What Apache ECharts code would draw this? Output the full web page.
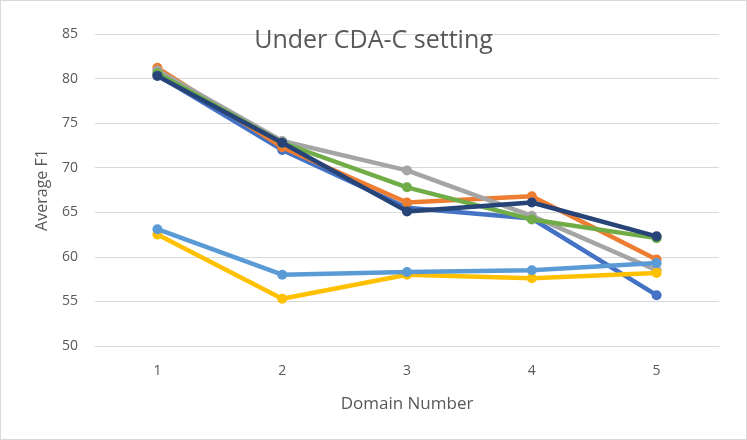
<!DOCTYPE html>
<html><head><meta charset="utf-8">
<script src="https://cdn.jsdelivr.net/npm/echarts@6/dist/echarts.min.js"></script>
<style>html,body{margin:0;padding:0;background:#fff}#c{width:747px;height:440px;box-sizing:border-box;border:1px solid #d9d9d9}</style>
</head><body><div id="c"></div>
<script>
const categories = ['1','2','3','4','5'];
const seriesNames = ['S1','S2','S3','S4','S5','S6','S7'];
const s1 = [80.4, 72.0, 65.5, 64.3, 55.7];
const s2 = [81.2, 72.3, 66.1, 66.8, 59.7];
const s3 = [80.9, 73.0, 69.7, 64.6, 58.5];
const s4 = [62.5, 55.3, 58.0, 57.6, 58.2];
const s5 = [63.1, 58.0, 58.3, 58.5, 59.3];
const s6 = [80.6, 72.8, 67.8, 64.2, 62.1];
const s7 = [80.3, 72.8, 65.1, 66.1, 62.3];
const colors = ['#4472C4','#ED7D31','#A5A5A5','#FFC000','#5B9BD5','#70AD47','#264478'];
const data = [s1,s2,s3,s4,s5,s6,s7];
const font = 'Open Sans, Noto Sans, sans-serif';
const chart = echarts.init(document.getElementById('c'), null, {renderer:'canvas'});
chart.setOption({
  animation:false,
  title:{text:'Under CDA-C setting', left:'center', top:22,
    textStyle:{color:'#595959', fontSize:25, fontWeight:'normal', fontFamily:font}},
  grid:{left:94, right:27, top:33, bottom:93},
  xAxis:{type:'category', data:categories, boundaryGap:true,
    name:'Domain Number', nameLocation:'middle', nameGap:50,
    nameTextStyle:{color:'#595959', fontSize:17, fontFamily:font},
    axisLine:{show:true, lineStyle:{color:'#d9d9d9', width:1}},
    axisTick:{show:false},
    axisLabel:{color:'#595959', fontSize:14, margin:18, fontFamily:font}},
  yAxis:{type:'value', min:50, max:85, interval:5,
    name:'Average F1', nameLocation:'middle', nameGap:45,
    nameTextStyle:{color:'#595959', fontSize:16, fontFamily:font},
    axisLine:{show:false}, axisTick:{show:false},
    axisLabel:{color:'#595959', fontSize:14, margin:17, fontFamily:font},
    splitLine:{lineStyle:{color:'#d9d9d9', width:1}}},
  series:data.map((d,i)=>({name:seriesNames[i], type:'line', data:d,
    symbol:'circle', symbolSize:10,
    lineStyle:{color:colors[i], width:4.5},
    itemStyle:{color:colors[i]}, z:2+i}))
});
</script></body></html>
